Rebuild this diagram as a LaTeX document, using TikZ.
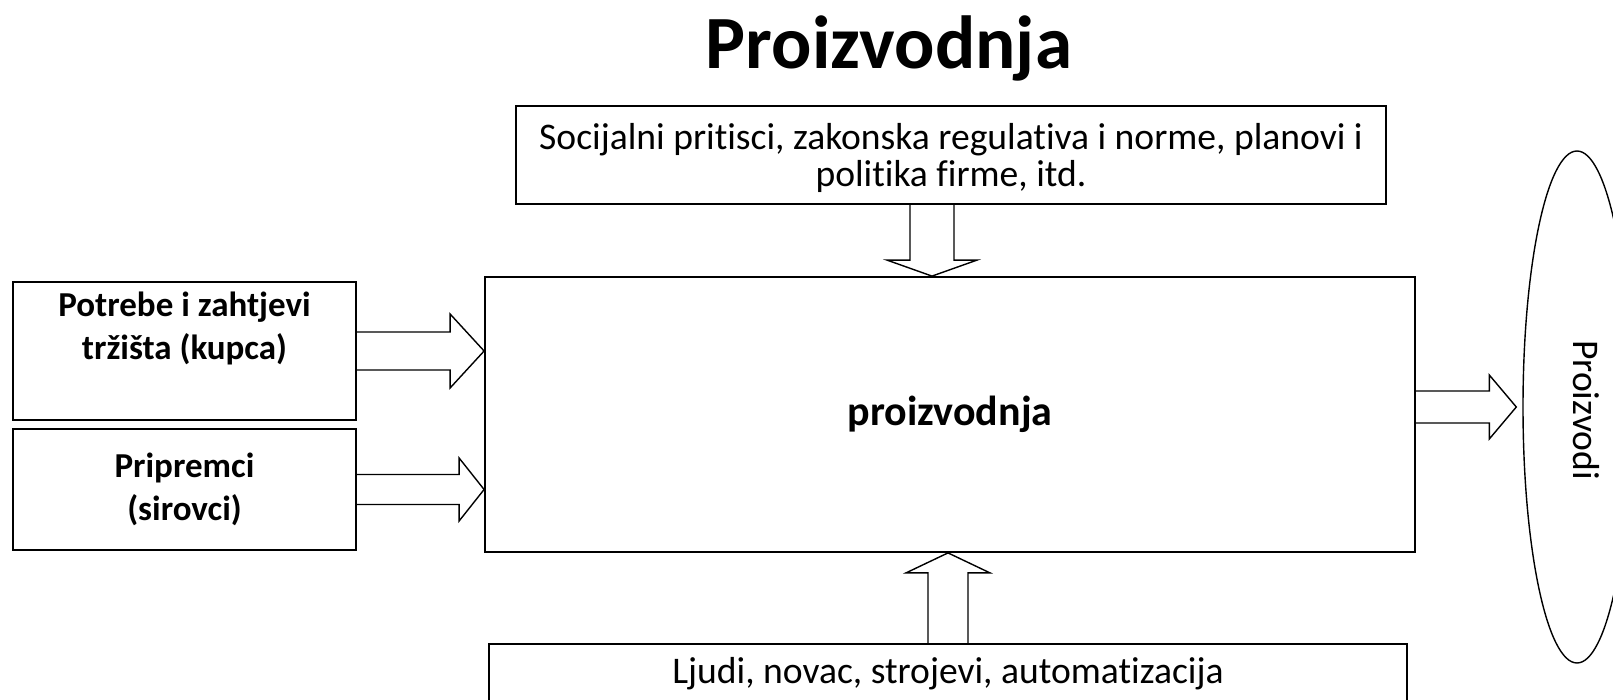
\documentclass[tikz,border=0pt]{standalone}
\usepackage{fontspec}
\setmainfont{Carlito}[Ligatures=NoCommon]
\usetikzlibrary{calc,shapes.geometric}

\begin{document}
\begin{tikzpicture}[x=0.5pt,y=-0.5pt,
    box/.style={draw,line width=0.9pt,inner sep=0pt},
    regtext/.style={font=\fontsize{18.8}{18.5}\selectfont,align=center,inner sep=0pt},
    boldtext/.style={font=\fontsize{17.5}{21.5}\selectfont\bfseries,align=center,inner sep=0pt},
    blockarrow/.style n args={3}{draw,line width=0.7pt,line join=miter,
        to path={($(\tikztostart)!#1!-90:(\tikztotarget)$)
            -- ($(\tikztotarget)!#3!(\tikztostart)!#1!90:(\tikztostart)$)
            -- ($(\tikztotarget)!#3!(\tikztostart)!#2!90:(\tikztostart)$)
            -- (\tikztotarget)
            -- ($(\tikztotarget)!#3!(\tikztostart)!#2!-90:(\tikztostart)$)
            -- ($(\tikztotarget)!#3!(\tikztostart)!#1!-90:(\tikztostart)$)
            -- ($(\tikztostart)!#1!90:(\tikztotarget)$)}}]
    \clip (0,0) rectangle (1613,700);
    \node[font=\fontsize{37.6}{43}\selectfont\bfseries] (title) at (889,48) {Proizvodnja};
    % boxes
    \node[box,minimum width=435pt,minimum height=49pt] (socijalni) at (951,155) {};
    \node[regtext] (socijalnitxt) at ([yshift=-1.5pt]socijalni.center)
        {Socijalni pritisci, zakonska regulativa i norme, planovi i\\politika firme, itd.};
    \node[box,minimum width=465pt,minimum height=137.5pt] (main) at (950,414.5) {};
    \node[font=\fontsize{21}{25}\selectfont\bfseries] (maintxt) at (main.center) {proizvodnja};
    \node[box,minimum width=171.5pt,minimum height=69pt] (potrebe) at (184.5,351) {};
    \node[boldtext,anchor=north] (potrebetxt) at ([yshift=-5pt]potrebe.north) {Potrebe i zahtjevi\\tržišta (kupca)};
    \node[box,minimum width=171.5pt,minimum height=60.5pt,boldtext] (pripremci) at (184.5,489.5) {Pripremci\\(sirovci)};
    \node[box,minimum width=459pt,minimum height=60pt,anchor=north] (ljudi) at (948,643) {};
    \node[regtext,anchor=north] (ljuditxt) at ([yshift=-7pt]ljudi.north) {Ljudi, novac, strojevi, automatizacija};
    \node[draw,ellipse,line width=0.7pt,minimum width=54pt,minimum height=256pt,inner sep=0pt] (proizvodi) at (1577,407) {};
    \node[font=\fontsize{18.8}{20}\selectfont,rotate=-90] (proizvoditxt) at (1586,410) {Proizvodi};
    % arrows
    \coordinate (dtail) at ([xshift=-9.5pt]socijalni.south);
    \coordinate (dtip) at (main.north -| dtail);
    \coordinate (utip) at (main.south -| ljudi.north);
    \coordinate (tip1) at (main.west |- potrebe.east);
    \coordinate (tip2) at (main.west |- pripremci.east);
    \coordinate (otail) at (main.east |- proizvodi.west);
    \coordinate (otip) at ([xshift=-3pt]proizvodi.west);
    \draw[blockarrow={9.5pt}{18.5pt}{17pt}] (potrebe.east) to (tip1);
    \draw[blockarrow={7.5pt}{15.75pt}{12.5pt}] (pripremci.east) to (tip2);
    \draw[blockarrow={11pt}{22.5pt}{8pt}] (dtail) to (dtip);
    \draw[blockarrow={10pt}{21pt}{10pt}] (ljudi.north) to (utip);
    \draw[blockarrow={8pt}{16pt}{13.5pt}] (otail) to (otip);
\end{tikzpicture}
\end{document}
